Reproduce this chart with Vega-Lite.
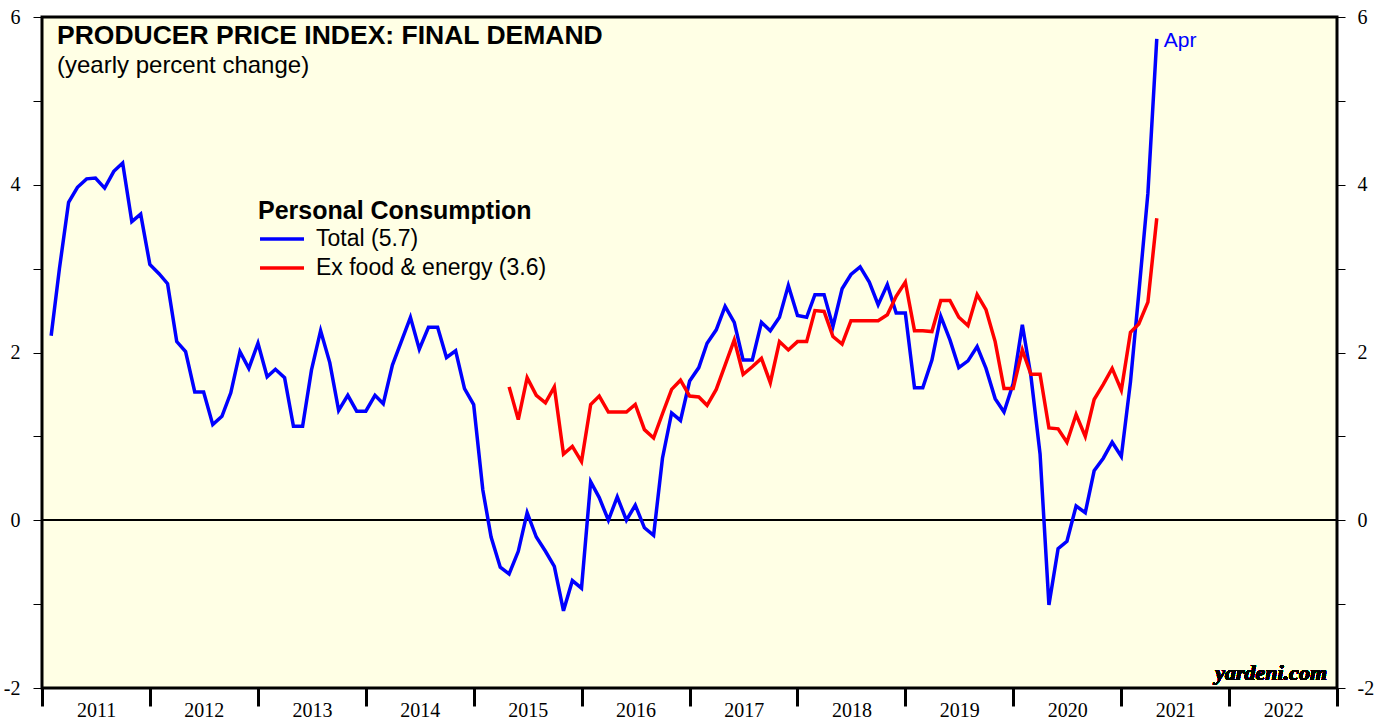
{
  "$schema": "https://vega.github.io/schema/vega-lite/v6.json",
  "autosize": "none",
  "width": 1295,
  "height": 671,
  "padding": {"left": 42, "top": 17, "right": 47, "bottom": 31},
  "background": "white",
  "config": {
    "view": {"fill": "#FFFFE5", "stroke": "black", "strokeWidth": 3},
    "font": "Liberation Sans",
    "axisX": {"title": null,
      "labelExpr": "utcyear(datum.value) >= 2023 ? '' : '' + utcyear(datum.value)",
      "labelOffset": 54, "labelAlign": "center", "labelBaseline": "top",
      "domain": false, "grid": false, "tickSize": 18, "tickWidth": 3, "tickColor": "black",
      "labelFont": "Liberation Serif", "labelFontSize": 20, "labelColor": "black", "labelPadding": -6, "labelFlush": false, "labelOverlap": false}
  },
  "title": {
    "text": "PRODUCER PRICE INDEX: FINAL DEMAND",
    "subtitle": "(yearly percent change)",
    "anchor": "start",
    "frame": "group",
    "orient": "top",
    "offset": -71,
    "dx": 15,
    "font": "Liberation Sans",
    "fontSize": 26.5,
    "fontWeight": "bold",
    "color": "black",
    "subtitleFont": "Liberation Sans",
    "subtitleFontSize": 24,
    "subtitleColor": "black",
    "subtitlePadding": 5
  },
  "data": {"values": [
    {"d":"2011-01","s":"Total (5.7)","v":2.2},{"d":"2011-02","s":"Total (5.7)","v":3.0},{"d":"2011-03","s":"Total (5.7)","v":3.79},{"d":"2011-04","s":"Total (5.7)","v":3.97},{"d":"2011-05","s":"Total (5.7)","v":4.07},{"d":"2011-06","s":"Total (5.7)","v":4.08},{"d":"2011-07","s":"Total (5.7)","v":3.96},{"d":"2011-08","s":"Total (5.7)","v":4.16},{"d":"2011-09","s":"Total (5.7)","v":4.26},{"d":"2011-10","s":"Total (5.7)","v":3.56},{"d":"2011-11","s":"Total (5.7)","v":3.65},{"d":"2011-12","s":"Total (5.7)","v":3.05},
    {"d":"2012-01","s":"Total (5.7)","v":2.94},{"d":"2012-02","s":"Total (5.7)","v":2.82},{"d":"2012-03","s":"Total (5.7)","v":2.13},{"d":"2012-04","s":"Total (5.7)","v":2.01},{"d":"2012-05","s":"Total (5.7)","v":1.53},{"d":"2012-06","s":"Total (5.7)","v":1.53},{"d":"2012-07","s":"Total (5.7)","v":1.14},{"d":"2012-08","s":"Total (5.7)","v":1.24},{"d":"2012-09","s":"Total (5.7)","v":1.52},{"d":"2012-10","s":"Total (5.7)","v":2.01},{"d":"2012-11","s":"Total (5.7)","v":1.81},{"d":"2012-12","s":"Total (5.7)","v":2.11},
    {"d":"2013-01","s":"Total (5.7)","v":1.71},{"d":"2013-02","s":"Total (5.7)","v":1.80},{"d":"2013-03","s":"Total (5.7)","v":1.70},{"d":"2013-04","s":"Total (5.7)","v":1.12},{"d":"2013-05","s":"Total (5.7)","v":1.12},{"d":"2013-06","s":"Total (5.7)","v":1.79},{"d":"2013-07","s":"Total (5.7)","v":2.26},{"d":"2013-08","s":"Total (5.7)","v":1.88},{"d":"2013-09","s":"Total (5.7)","v":1.31},{"d":"2013-10","s":"Total (5.7)","v":1.49},{"d":"2013-11","s":"Total (5.7)","v":1.30},{"d":"2013-12","s":"Total (5.7)","v":1.30},
    {"d":"2014-01","s":"Total (5.7)","v":1.49},{"d":"2014-02","s":"Total (5.7)","v":1.39},{"d":"2014-03","s":"Total (5.7)","v":1.85},{"d":"2014-04","s":"Total (5.7)","v":2.13},{"d":"2014-05","s":"Total (5.7)","v":2.42},{"d":"2014-06","s":"Total (5.7)","v":2.04},{"d":"2014-07","s":"Total (5.7)","v":2.30},{"d":"2014-08","s":"Total (5.7)","v":2.30},{"d":"2014-09","s":"Total (5.7)","v":1.94},{"d":"2014-10","s":"Total (5.7)","v":2.02},{"d":"2014-11","s":"Total (5.7)","v":1.57},{"d":"2014-12","s":"Total (5.7)","v":1.38},
    {"d":"2015-01","s":"Total (5.7)","v":0.36},{"d":"2015-02","s":"Total (5.7)","v":-0.20},{"d":"2015-03","s":"Total (5.7)","v":-0.56},{"d":"2015-04","s":"Total (5.7)","v":-0.64},{"d":"2015-05","s":"Total (5.7)","v":-0.37},{"d":"2015-06","s":"Total (5.7)","v":0.09},{"d":"2015-07","s":"Total (5.7)","v":-0.20},{"d":"2015-08","s":"Total (5.7)","v":-0.37},{"d":"2015-09","s":"Total (5.7)","v":-0.55},{"d":"2015-10","s":"Total (5.7)","v":-1.08},{"d":"2015-11","s":"Total (5.7)","v":-0.72},{"d":"2015-12","s":"Total (5.7)","v":-0.81},
    {"d":"2016-01","s":"Total (5.7)","v":0.46},{"d":"2016-02","s":"Total (5.7)","v":0.27},{"d":"2016-03","s":"Total (5.7)","v":0.0},{"d":"2016-04","s":"Total (5.7)","v":0.28},{"d":"2016-05","s":"Total (5.7)","v":0.0},{"d":"2016-06","s":"Total (5.7)","v":0.18},{"d":"2016-07","s":"Total (5.7)","v":-0.09},{"d":"2016-08","s":"Total (5.7)","v":-0.18},{"d":"2016-09","s":"Total (5.7)","v":0.74},{"d":"2016-10","s":"Total (5.7)","v":1.28},{"d":"2016-11","s":"Total (5.7)","v":1.19},{"d":"2016-12","s":"Total (5.7)","v":1.66},
    {"d":"2017-01","s":"Total (5.7)","v":1.82},{"d":"2017-02","s":"Total (5.7)","v":2.11},{"d":"2017-03","s":"Total (5.7)","v":2.27},{"d":"2017-04","s":"Total (5.7)","v":2.55},{"d":"2017-05","s":"Total (5.7)","v":2.36},{"d":"2017-06","s":"Total (5.7)","v":1.91},{"d":"2017-07","s":"Total (5.7)","v":1.91},{"d":"2017-08","s":"Total (5.7)","v":2.36},{"d":"2017-09","s":"Total (5.7)","v":2.26},{"d":"2017-10","s":"Total (5.7)","v":2.42},{"d":"2017-11","s":"Total (5.7)","v":2.80},{"d":"2017-12","s":"Total (5.7)","v":2.44},
    {"d":"2018-01","s":"Total (5.7)","v":2.42},{"d":"2018-02","s":"Total (5.7)","v":2.69},{"d":"2018-03","s":"Total (5.7)","v":2.69},{"d":"2018-04","s":"Total (5.7)","v":2.31},{"d":"2018-05","s":"Total (5.7)","v":2.76},{"d":"2018-06","s":"Total (5.7)","v":2.93},{"d":"2018-07","s":"Total (5.7)","v":3.02},{"d":"2018-08","s":"Total (5.7)","v":2.84},{"d":"2018-09","s":"Total (5.7)","v":2.57},{"d":"2018-10","s":"Total (5.7)","v":2.81},{"d":"2018-11","s":"Total (5.7)","v":2.47},{"d":"2018-12","s":"Total (5.7)","v":2.47},
    {"d":"2019-01","s":"Total (5.7)","v":1.58},{"d":"2019-02","s":"Total (5.7)","v":1.58},{"d":"2019-03","s":"Total (5.7)","v":1.91},{"d":"2019-04","s":"Total (5.7)","v":2.43},{"d":"2019-05","s":"Total (5.7)","v":2.15},{"d":"2019-06","s":"Total (5.7)","v":1.82},{"d":"2019-07","s":"Total (5.7)","v":1.90},{"d":"2019-08","s":"Total (5.7)","v":2.07},{"d":"2019-09","s":"Total (5.7)","v":1.81},{"d":"2019-10","s":"Total (5.7)","v":1.45},{"d":"2019-11","s":"Total (5.7)","v":1.29},{"d":"2019-12","s":"Total (5.7)","v":1.63},
    {"d":"2020-01","s":"Total (5.7)","v":2.33},{"d":"2020-02","s":"Total (5.7)","v":1.72},{"d":"2020-03","s":"Total (5.7)","v":0.79},{"d":"2020-04","s":"Total (5.7)","v":-1.01},{"d":"2020-05","s":"Total (5.7)","v":-0.34},{"d":"2020-06","s":"Total (5.7)","v":-0.25},{"d":"2020-07","s":"Total (5.7)","v":0.17},{"d":"2020-08","s":"Total (5.7)","v":0.09},{"d":"2020-09","s":"Total (5.7)","v":0.59},{"d":"2020-10","s":"Total (5.7)","v":0.74},{"d":"2020-11","s":"Total (5.7)","v":0.93},{"d":"2020-12","s":"Total (5.7)","v":0.76},
    {"d":"2021-01","s":"Total (5.7)","v":1.65},{"d":"2021-02","s":"Total (5.7)","v":2.7},{"d":"2021-03","s":"Total (5.7)","v":3.9},{"d":"2021-04","s":"Total (5.7)","v":5.74},
    {"d":"2015-04","s":"Ex food & energy (3.6)","v":1.59},{"d":"2015-05","s":"Ex food & energy (3.6)","v":1.20},{"d":"2015-06","s":"Ex food & energy (3.6)","v":1.70},{"d":"2015-07","s":"Ex food & energy (3.6)","v":1.49},{"d":"2015-08","s":"Ex food & energy (3.6)","v":1.40},{"d":"2015-09","s":"Ex food & energy (3.6)","v":1.59},{"d":"2015-10","s":"Ex food & energy (3.6)","v":0.79},{"d":"2015-11","s":"Ex food & energy (3.6)","v":0.88},{"d":"2015-12","s":"Ex food & energy (3.6)","v":0.70},
    {"d":"2016-01","s":"Ex food & energy (3.6)","v":1.38},{"d":"2016-02","s":"Ex food & energy (3.6)","v":1.48},{"d":"2016-03","s":"Ex food & energy (3.6)","v":1.29},{"d":"2016-04","s":"Ex food & energy (3.6)","v":1.29},{"d":"2016-05","s":"Ex food & energy (3.6)","v":1.29},{"d":"2016-06","s":"Ex food & energy (3.6)","v":1.38},{"d":"2016-07","s":"Ex food & energy (3.6)","v":1.08},{"d":"2016-08","s":"Ex food & energy (3.6)","v":0.98},{"d":"2016-09","s":"Ex food & energy (3.6)","v":1.27},{"d":"2016-10","s":"Ex food & energy (3.6)","v":1.56},{"d":"2016-11","s":"Ex food & energy (3.6)","v":1.67},{"d":"2016-12","s":"Ex food & energy (3.6)","v":1.48},
    {"d":"2017-01","s":"Ex food & energy (3.6)","v":1.47},{"d":"2017-02","s":"Ex food & energy (3.6)","v":1.37},{"d":"2017-03","s":"Ex food & energy (3.6)","v":1.56},{"d":"2017-04","s":"Ex food & energy (3.6)","v":1.85},{"d":"2017-05","s":"Ex food & energy (3.6)","v":2.15},{"d":"2017-06","s":"Ex food & energy (3.6)","v":1.74},{"d":"2017-07","s":"Ex food & energy (3.6)","v":1.83},{"d":"2017-08","s":"Ex food & energy (3.6)","v":1.93},{"d":"2017-09","s":"Ex food & energy (3.6)","v":1.64},{"d":"2017-10","s":"Ex food & energy (3.6)","v":2.13},{"d":"2017-11","s":"Ex food & energy (3.6)","v":2.03},{"d":"2017-12","s":"Ex food & energy (3.6)","v":2.13},
    {"d":"2018-01","s":"Ex food & energy (3.6)","v":2.13},{"d":"2018-02","s":"Ex food & energy (3.6)","v":2.50},{"d":"2018-03","s":"Ex food & energy (3.6)","v":2.49},{"d":"2018-04","s":"Ex food & energy (3.6)","v":2.19},{"d":"2018-05","s":"Ex food & energy (3.6)","v":2.10},{"d":"2018-06","s":"Ex food & energy (3.6)","v":2.38},{"d":"2018-07","s":"Ex food & energy (3.6)","v":2.38},{"d":"2018-08","s":"Ex food & energy (3.6)","v":2.38},{"d":"2018-09","s":"Ex food & energy (3.6)","v":2.38},{"d":"2018-10","s":"Ex food & energy (3.6)","v":2.45},{"d":"2018-11","s":"Ex food & energy (3.6)","v":2.67},{"d":"2018-12","s":"Ex food & energy (3.6)","v":2.84},
    {"d":"2019-01","s":"Ex food & energy (3.6)","v":2.26},{"d":"2019-02","s":"Ex food & energy (3.6)","v":2.26},{"d":"2019-03","s":"Ex food & energy (3.6)","v":2.25},{"d":"2019-04","s":"Ex food & energy (3.6)","v":2.62},{"d":"2019-05","s":"Ex food & energy (3.6)","v":2.62},{"d":"2019-06","s":"Ex food & energy (3.6)","v":2.42},{"d":"2019-07","s":"Ex food & energy (3.6)","v":2.32},{"d":"2019-08","s":"Ex food & energy (3.6)","v":2.69},{"d":"2019-09","s":"Ex food & energy (3.6)","v":2.51},{"d":"2019-10","s":"Ex food & energy (3.6)","v":2.13},{"d":"2019-11","s":"Ex food & energy (3.6)","v":1.57},{"d":"2019-12","s":"Ex food & energy (3.6)","v":1.57},
    {"d":"2020-01","s":"Ex food & energy (3.6)","v":2.03},{"d":"2020-02","s":"Ex food & energy (3.6)","v":1.74},{"d":"2020-03","s":"Ex food & energy (3.6)","v":1.74},{"d":"2020-04","s":"Ex food & energy (3.6)","v":1.10},{"d":"2020-05","s":"Ex food & energy (3.6)","v":1.09},{"d":"2020-06","s":"Ex food & energy (3.6)","v":0.93},{"d":"2020-07","s":"Ex food & energy (3.6)","v":1.26},{"d":"2020-08","s":"Ex food & energy (3.6)","v":1.00},{"d":"2020-09","s":"Ex food & energy (3.6)","v":1.44},{"d":"2020-10","s":"Ex food & energy (3.6)","v":1.62},{"d":"2020-11","s":"Ex food & energy (3.6)","v":1.81},{"d":"2020-12","s":"Ex food & energy (3.6)","v":1.55},
    {"d":"2021-01","s":"Ex food & energy (3.6)","v":2.24},{"d":"2021-02","s":"Ex food & energy (3.6)","v":2.34},{"d":"2021-03","s":"Ex food & energy (3.6)","v":2.60},{"d":"2021-04","s":"Ex food & energy (3.6)","v":3.60}
  ]},
  "layer": [
    {
      "mark": {"type": "rule", "color": "black", "strokeWidth": 1},
      "encoding": {
        "y": {"datum": 0, "type": "quantitative",
          "scale": {"domain": [-2, 6], "nice": false, "zero": false},
          "axis": {"orient": "right", "title": null, "values": [-2,-1,0,1,2,3,4,5,6],
            "labelExpr": "datum.value % 2 == 0 ? '' + datum.value : ''",
            "domain": false, "grid": false, "ticks": true, "tickSize": 8, "tickColor": "black", "tickWidth": 1,
            "labelFont": "Liberation Serif", "labelFontSize": 20, "labelColor": "black", "labelPadding": 12}
        }
      }
    },
    {
      "mark": {"type": "line", "strokeWidth": 3.5, "interpolate": "linear"},
      "encoding": {
        "x": {"field": "d", "type": "temporal", "timeUnit": "utcyearmonth", "bandPosition": 1,
          "scale": {"type": "utc", "domain": [{"year": 2011, "month": 1, "date": 1, "utc": true}, {"year": 2023, "month": 1, "date": 1, "utc": true}]},
          "axis": {"title": null,
            "values": [
              {"year": 2011, "month": 1, "date": 1, "utc": true},{"year": 2012, "month": 1, "date": 1, "utc": true},{"year": 2013, "month": 1, "date": 1, "utc": true},{"year": 2014, "month": 1, "date": 1, "utc": true},{"year": 2015, "month": 1, "date": 1, "utc": true},{"year": 2016, "month": 1, "date": 1, "utc": true},{"year": 2017, "month": 1, "date": 1, "utc": true},{"year": 2018, "month": 1, "date": 1, "utc": true},{"year": 2019, "month": 1, "date": 1, "utc": true},{"year": 2020, "month": 1, "date": 1, "utc": true},{"year": 2021, "month": 1, "date": 1, "utc": true},{"year": 2022, "month": 1, "date": 1, "utc": true},{"year": 2023, "month": 1, "date": 1, "utc": true}],
            "labelExpr": "utcyear(datum.value) >= 2023 ? '' : '' + utcyear(datum.value)"}
        },
        "y": {"field": "v", "type": "quantitative",
          "scale": {"domain": [-2, 6], "nice": false, "zero": false},
          "axis": {"orient": "left", "title": null, "values": [-2,-1,0,1,2,3,4,5,6],
            "labelExpr": "datum.value % 2 == 0 ? '' + datum.value : ''",
            "domain": false, "grid": false, "tickSize": 9, "tickColor": "black", "tickWidth": 1,
            "labelFont": "Liberation Serif", "labelFontSize": 20, "labelColor": "black", "labelPadding": 13}
        },
        "color": {"field": "s", "type": "nominal",
          "scale": {"domain": ["Total (5.7)", "Ex food & energy (3.6)"], "range": ["#0000FF", "#FF0000"]},
          "legend": {"orient": "none", "legendX": 216, "legendY": 182, "title": "Personal Consumption",
            "titleFont": "Liberation Sans", "titleFontSize": 25, "titleFontWeight": "bold", "titleColor": "black", "titlePadding": 2, "titleLimit": 500,
            "labelFont": "Liberation Sans", "labelFontSize": 23, "labelColor": "black", "labelLimit": 500,
            "symbolType": "M-1,0H3", "symbolSize": 484, "symbolStrokeWidth": 3.5, "labelOffset": 32,
            "rowPadding": 4, "padding": 0, "fillColor": null, "strokeColor": null}
        }
      }
    },
    {
      "transform": [{"filter": "datum.s == 'Total (5.7)' && datum.v == 5.74"}],
      "mark": {"type": "text", "text": "Apr", "align": "left", "baseline": "middle", "dx": 7, "dy": 2, "font": "Liberation Sans", "fontSize": 21, "color": "#0000FF"},
      "encoding": {
        "x": {"field": "d", "type": "temporal", "timeUnit": "utcyearmonth", "bandPosition": 1},
        "y": {"field": "v", "type": "quantitative", "axis": null}
      }
    },
    {
      "mark": {"type": "text", "text": "yardeni.com", "align": "right", "baseline": "alphabetic", "dx": -10, "font": "Liberation Serif", "fontSize": 22, "fontWeight": "bold", "fontStyle": "italic", "color": "black"},
      "encoding": {
        "x": {"datum": {"year": 2023, "month": 1, "date": 1, "utc": true}, "type": "temporal"},
        "y": {"datum": -1.9, "type": "quantitative", "axis": null}
      }
    }
  ],
  "resolve": {"axis": {"y": "independent"}}
}
